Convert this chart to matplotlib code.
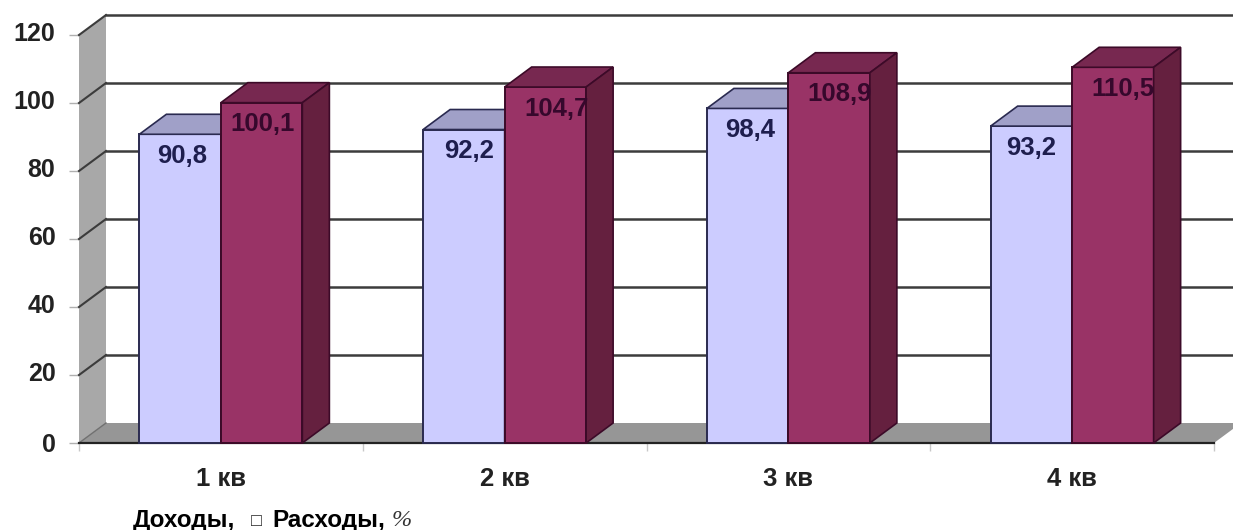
import matplotlib
matplotlib.use('Agg')
import matplotlib.pyplot as plt
from matplotlib.patches import Polygon
from matplotlib.transforms import ScaledTranslation

plt.rcParams['font.family'] = ['Liberation Sans', 'DejaVu Sans']

quarters = ['1 кв', '2 кв', '3 кв', '4 кв']
income = [90.8, 92.2, 98.4, 93.2]
expense = [100.1, 104.7, 108.9, 110.5]
income_labels = ['90,8', '92,2', '98,4', '93,2']
expense_labels = ['100,1', '104,7', '108,9', '110,5']
y_ticks = [0, 20, 40, 60, 80, 100, 120]

W, H = 1233, 530
fig = plt.figure(figsize=(W / 100, H / 100), dpi=100)
ax = fig.add_axes([79 / W, (H - 443) / H, 1135 / W, 408 / H])
ax.set_xlim(0, 4)
ax.set_ylim(0, 120)
for s in ax.spines.values():
    s.set_visible(False)

# 3d look: depth of the box in data units
dx = 27 / 283.75
dy = 20 / 3.4
bar_w = 81.5 / 283.75


def poly(pts, fc, ec='none', lw=0, z=1):
    ax.add_patch(Polygon(pts, closed=True, fc=fc, ec=ec, lw=lw, zorder=z, clip_on=False))


# walls and floor
poly([(0, 0), (dx, dy), (dx, 120 + dy), (0, 120)], '#a8a8a8')
poly([(0, 0), (4, 0), (4 + dx, dy), (dx, dy)], '#969696')

# grid on back wall + diagonals on the side wall
for v in y_ticks[1:]:
    ax.plot([dx, 4 + dx], [v + dy, v + dy], color='#3c3c3c', lw=1.8, zorder=2, clip_on=False)
    ax.plot([0, dx], [v, v + dy], color='#3c3c3c', lw=1.5, zorder=2, clip_on=False)
ax.plot([0, dx], [0, dy], color='#707070', lw=1, zorder=2, clip_on=False)
ax.plot([0, 4], [0, 0], color='#222222', lw=1.6, zorder=3, clip_on=False)


def box(x0, h, front, top, side, edge, z):
    x1 = x0 + bar_w
    ax.bar(x0, h, width=bar_w, align='edge', color=front, edgecolor=edge, linewidth=1.4, zorder=z, clip_on=False)
    poly([(x0, h), (x1, h), (x1 + dx, h + dy), (x0 + dx, h + dy)], top, edge, 1.2, z)
    poly([(x1, 0), (x1 + dx, dy), (x1 + dx, h + dy), (x1, h)], side, edge, 1.2, z)


income_shift = [2, 5, 3, 0]
expense_shift = [1, 11, 10, 10]
for i in range(4):
    left = i + 0.5 - bar_w
    box(left, income[i], '#ccccff', '#a0a0c8', '#8f8fb8', '#2a2a50', 4 + i * 2)
    box(i + 0.5, expense[i], '#993366', '#772850', '#65203f', '#3c0a28', 5 + i * 2)
    ax.annotate(income_labels[i], (left + bar_w / 2, income[i]), xytext=(income_shift[i] * 0.72, -15.5),
                textcoords='offset points', ha='center', va='center', fontsize=18.5,
                fontweight='bold', color='#1e1e4e', zorder=20)
    ax.annotate(expense_labels[i], (i + 0.5 + bar_w / 2, expense[i]), xytext=(expense_shift[i] * 0.72, -15.5),
                textcoords='offset points', ha='center', va='center', fontsize=18.5,
                fontweight='bold', color='#36082c', zorder=20)

ax.set_yticks(y_ticks)
ax.set_yticklabels([str(v) for v in y_ticks], fontsize=18, fontweight='bold', color='#222222')
ax.tick_params(axis='y', length=7, width=1, color='#b0b0b0', pad=10)
up = ScaledTranslation(0, 2.5 / 72, fig.dpi_scale_trans)
for lab, v in zip(ax.get_yticklabels(), y_ticks):
    if v:
        lab.set_transform(lab.get_transform() + up)
ax.set_xticks(range(5))
ax.set_xticklabels([])
ax.tick_params(axis='x', length=6, width=1, color='#c8c8c8')
ax.set_xticks([i + 0.5 for i in range(4)], minor=True)
ax.set_xticklabels(quarters, minor=True, fontsize=18.5, fontweight='bold', color='#222222')
ax.tick_params(axis='x', which='minor', length=0, pad=17)

fig.text(133 / W, 1 - 520 / H, 'Доходы,', fontsize=17.5, fontweight='bold', va='center', color='black')
fig.text(251 / W, 1 - 522 / H, '□', fontsize=13, va='center', color='#222222')
fig.text(272 / W, 1 - 520 / H, 'Расходы,', fontsize=17.5, fontweight='bold', va='center', color='black')
fig.text(392 / W, 1 - 520 / H, '%', fontsize=17.5, style='italic', family='Liberation Serif', va='center', color='#333333')

fig.savefig('out.png', dpi=100)
